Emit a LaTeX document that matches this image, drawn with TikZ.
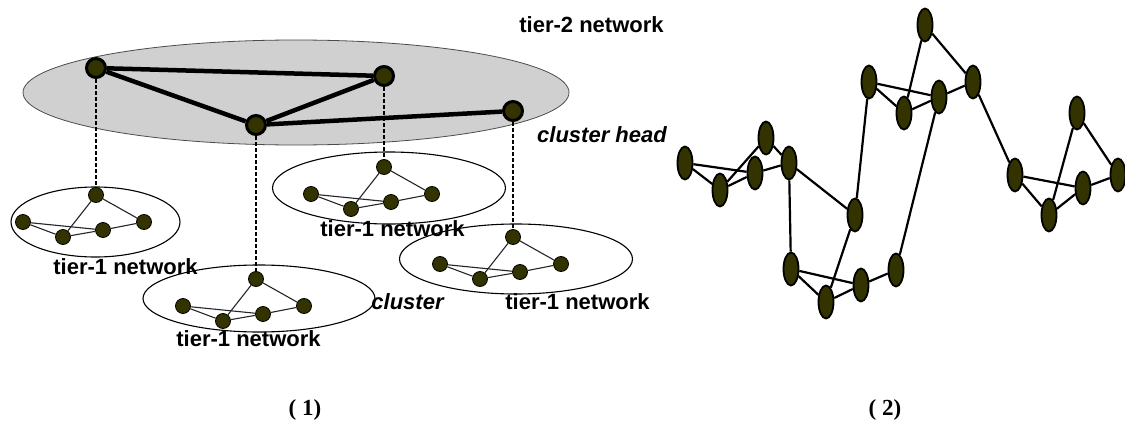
\documentclass[tikz,border=0pt]{standalone}
\usepackage{fontspec}
\setmainfont{Liberation Sans}
\newfontfamily\capfont{Liberation Serif}
\usetikzlibrary{shapes.geometric}
\definecolor{nodeolive}{RGB}{51,51,0}
\definecolor{tiergray}{RGB}{208,208,208}
\begin{document}
\begin{tikzpicture}[x=1pt,y=-1pt,
  smallnode/.style={circle,fill=nodeolive,draw=black,line width=0.8pt,minimum size=15pt,inner sep=0pt},
  headnode/.style={circle,fill=nodeolive,draw=black,line width=3pt,minimum size=19pt,inner sep=0pt},
  meshnode/.style={ellipse,fill=nodeolive,draw=black,line width=1.8pt,minimum width=15pt,minimum height=33pt,inner sep=0pt},
  clusterline/.style={line width=1.1pt,draw=black!85},
  headline/.style={line width=4.5pt,draw=black},
  droplink/.style={line width=1.8pt,draw=black,dash pattern=on 4pt off 2pt},
  meshline/.style={line width=2.2pt,draw=black},
  lbl/.style={font=\bfseries\fontsize{22}{22}\selectfont,inner sep=0pt},
  ilbl/.style={font=\bfseries\itshape\fontsize{22}{22}\selectfont,inner sep=0pt},
  caption/.style={font=\capfont\bfseries\fontsize{23}{23}\selectfont,inner sep=0pt}
]
\useasboundingbox[fill=white] (0,0) rectangle (1125,423);

% ---------- two-tier network ----------
\draw[fill=tiergray,draw=black!70,line width=0.8pt] (296,92.5) ellipse [x radius=273,y radius=52.5];

% cluster outlines
\draw[line width=1.1pt] (95.5,222) ellipse [x radius=84.5,y radius=35];
\draw[line width=1.1pt] (389,188) ellipse [x radius=116.5,y radius=36];
\draw[line width=1.1pt] (516,259) ellipse [x radius=116.5,y radius=35];
\draw[line width=1.1pt] (259,298.5) ellipse [x radius=116,y radius=33.5];

% cluster heads
\node[headnode] (hA) at (96,68) {};
\node[headnode] (hB) at (384,76) {};
\node[headnode] (hC) at (256,125) {};
\node[headnode] (hD) at (513,111) {};

% members of each cluster
\foreach \c/\x/\y in {p/96/195, q/384/167, r/513/237, s/256/279}{
  \node[smallnode] (\c t) at (\x,\y) {};
  \node[smallnode] (\c l) at (\x-73,\y+27) {};
  \node[smallnode] (\c m) at (\x-33,\y+42) {};
  \node[smallnode] (\c n) at (\x+7,\y+35) {};
  \node[smallnode] (\c r) at (\x+48,\y+27) {};
  \draw[clusterline] (\c t) -- (\c m);
  \draw[clusterline] (\c t) -- (\c r);
  \draw[clusterline] (\c l) -- (\c m);
  \draw[clusterline] (\c l) -- (\c n);
  \draw[clusterline] (\c m) -- (\c n);
  \draw[clusterline] (\c n) -- (\c r);
}

% tier-2 links
\draw[headline] (hA) -- (hB);
\draw[headline] (hA) -- (hC);
\draw[headline] (hC) -- (hB);
\draw[headline] (hC) -- (hD);

% heads down to their clusters
\draw[droplink] (hA) -- (pt);
\draw[droplink] (hB) -- (qt);
\draw[droplink] (hD) -- (rt);
\draw[droplink] (hC) -- (st);

% labels
\node[lbl] (t2) at (591.5,25) {tier-2 network};
\node[ilbl] (chead) at (602,135) {cluster head};
\node[lbl] (lp) at (125.5,267) {tier-1 network};
\node[lbl] (lq) at (392.5,229) {tier-1 network};
\node[lbl] (lr) at (577.5,302) {tier-1 network};
\node[lbl] (ls) at (248.5,339) {tier-1 network};
\node[ilbl] (clu) at (407.5,302) {cluster};

% ---------- flat mesh ----------
\foreach \n/\x/\y in {n1/685/163, n2/720/190, n3/755/173, n4/766/138, n5/789/163,
                      m1/869/82, m2/904/113, m3/939/97, m4/925/25, m5/973/82,
                      r1/1015/175, r2/1049/215, r3/1083/188, r4/1077/113, r5/1118/175,
                      n6/855/215, l1/791/269, l2/826/302, l3/861/285, l4/896/270}{
  \node[meshnode] (\n) at (\x,\y) {};
}
\foreach \a/\b in {n1/n2, n1/n3, n2/n3, n2/n4, n4/n5, n3/n5, n5/l1, n5/n6,
                   m1/m2, m1/m3, m2/m3, m4/m2, m4/m5, m3/m5, m1/n6, m3/l4, m5/r1,
                   r1/r2, r1/r3, r2/r3, r2/r4, r4/r5, r3/r5,
                   l1/l2, l1/l3, l2/l3, l3/l4, n6/l2}{
  \draw[meshline] (\a) -- (\b);
}

% captions
\node[caption] (c1) at (305,410) {( 1)};
\node[caption] (c2) at (885,410) {( 2)};
\end{tikzpicture}
\end{document}
